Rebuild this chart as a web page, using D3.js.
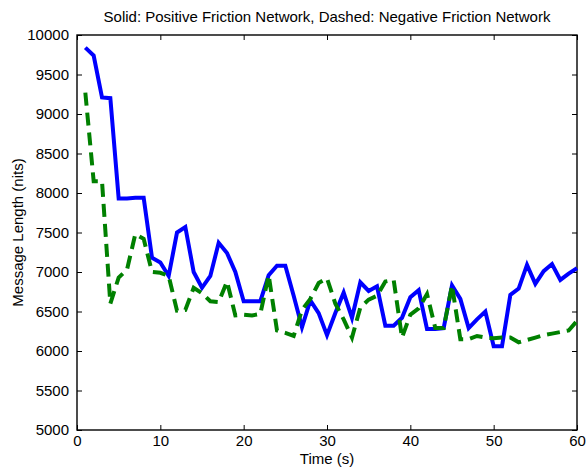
<!DOCTYPE html>
<html>
<head>
<meta charset="utf-8">
<script src="https://cdn.jsdelivr.net/npm/d3@7"></script>
<style>
  body { margin: 0; background: #fff; }
  svg { display: block; font-family: "Liberation Sans", Arial, sans-serif; }
</style>
</head>
<body>
<svg id="chart" width="587" height="468"></svg>
<script>
// time steps (s)
const times = d3.range(1, 61);

// solid line: positive friction network
const positive = [
  9840, 9740, 9210, 9200, 7930, 7930, 7940, 7940, 7180, 7120,
  6950, 7500, 7570, 7000, 6800, 6950, 7370, 7240, 7000, 6630,
  6630, 6630, 6960, 7080, 7080, 6700, 6300, 6640, 6480, 6200,
  6480, 6740, 6420, 6870, 6760, 6820, 6320, 6320, 6420, 6680,
  6770, 6280, 6280, 6290, 6830, 6660, 6290, 6400, 6500, 6060,
  6060, 6710, 6790, 7090, 6850, 7010, 7100, 6900, 6980, 7050
];

// dashed line: negative friction network
const negative = [
  9270, 8150, 8150, 6600, 6930, 7030, 7480, 7420, 7000, 6990,
  6950, 6510, 6520, 6800, 6730, 6630, 6620, 6880, 6450, 6460,
  6450, 6470, 6960, 6260, 6230, 6190, 6520, 6660, 6860, 6920,
  6600, 6400, 6170, 6550, 6650, 6700, 6880, 6900, 6170, 6460,
  6540, 6720, 6290, 6290, 6830, 6150, 6150, 6190, 6170, 6160,
  6170, 6170, 6110, 6140, 6170, 6200, 6220, 6240, 6260, 6380
];

const xTicks = [0, 10, 20, 30, 40, 50, 60];
const yTicks = d3.range(5000, 10001, 500);

const titleText = "Solid: Positive Friction Network, Dashed: Negative Friction Network";
const xLabel = "Time (s)";
const yLabel = "Message Length (nits)";

let svg = d3.select("#chart"),
    margin = {top: 35, right: 10, bottom: 38, left: 77},
    width = 587 - margin.left - margin.right,
    height = 468 - margin.top - margin.bottom,
    g = svg.append("g").attr("transform", "translate(" + margin.left + "," + margin.top + ")");

let x = d3.scaleLinear().domain([0, 60]).range([0, width]);
let y = d3.scaleLinear().domain([5000, 10000]).range([height, 0]);

// ticks drawn inward on all four sides, matlab style
const tickLen = 5;
const axisStyle = sel => {
    sel.select(".domain").remove();
    sel.selectAll(".tick line").attr("stroke", "#000").attr("stroke-width", 1);
    sel.selectAll(".tick text").attr("fill", "#000").style("font-size", "15px");
};

g.append("g")
    .attr("transform", "translate(0," + height + ")")
    .call(d3.axisBottom(x).tickValues(xTicks).tickSizeInner(-tickLen).tickSizeOuter(0).tickPadding(5))
    .call(axisStyle);

g.append("g")
    .call(d3.axisTop(x).tickValues(xTicks).tickSizeInner(-tickLen).tickSizeOuter(0).tickFormat(""))
    .call(axisStyle);

g.append("g")
    .call(d3.axisLeft(y).tickValues(yTicks).tickSizeInner(-tickLen).tickSizeOuter(0).tickPadding(8).tickFormat(d3.format("d")))
    .call(axisStyle);

g.append("g")
    .attr("transform", "translate(" + width + ",0)")
    .call(d3.axisRight(y).tickValues(yTicks).tickSizeInner(-tickLen).tickSizeOuter(0).tickFormat(""))
    .call(axisStyle);

g.selectAll(".tick text").attr("font-family", null);

// box
g.append("rect")
    .attr("width", width)
    .attr("height", height)
    .attr("fill", "none")
    .attr("stroke", "#000")
    .attr("stroke-width", 1.4);

let line = d3.line()
    .x((d, i) => x(times[i]))
    .y(d => y(d));

g.append("path")
    .datum(positive)
    .attr("fill", "none")
    .attr("stroke", "#0000ff")
    .attr("stroke-width", 4)
    .attr("stroke-linejoin", "miter")
    .attr("d", line);

g.append("path")
    .datum(negative)
    .attr("fill", "none")
    .attr("stroke", "#008000")
    .attr("stroke-width", 4)
    .attr("stroke-dasharray", "13,7")
    .attr("d", line);

svg.append("text")
    .attr("x", margin.left + width / 2)
    .attr("y", 22)
    .attr("text-anchor", "middle")
    .style("font-size", "15px")
    .text(titleText);

svg.append("text")
    .attr("x", margin.left + width / 2)
    .attr("y", 464)
    .attr("text-anchor", "middle")
    .style("font-size", "15px")
    .text(xLabel);

svg.append("text")
    .attr("transform", "translate(23," + (margin.top + height / 2) + ") rotate(-90)")
    .attr("text-anchor", "middle")
    .style("font-size", "15px")
    .text(yLabel);
</script>
</body>
</html>
